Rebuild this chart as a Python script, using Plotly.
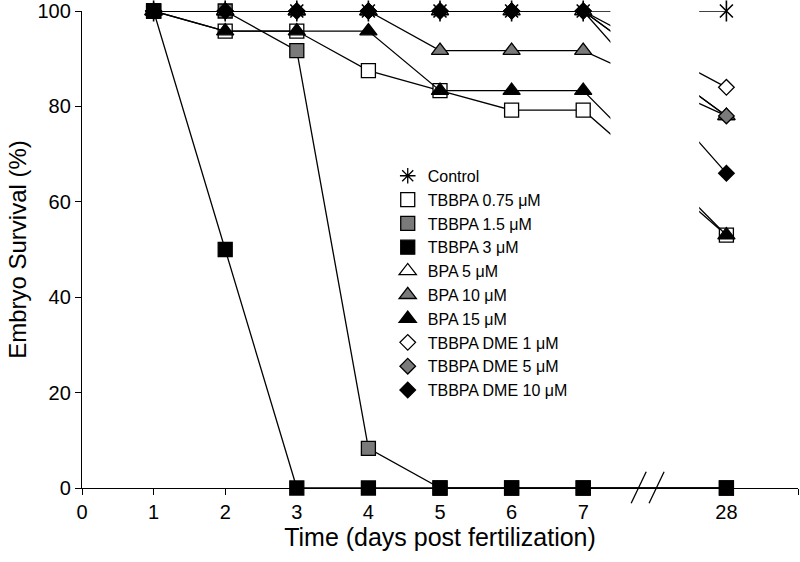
import plotly.graph_objects as go

# ---- data ----
days = [1, 2, 3, 4, 5, 6, 7, 28]
tick_positions = [0, 1, 2, 3, 4, 5, 6, 7, 9, 10]
tick_days = ["0", "1", "2", "3", "4", "5", "6", "7", "28", ""]
series_names = ["Control", "TBBPA 0.75 μM", "TBBPA 1.5 μM", "TBBPA 3 μM",
                "BPA 5 μM", "BPA 10 μM", "BPA 15 μM",
                "TBBPA DME 1 μM", "TBBPA DME 5 μM", "TBBPA DME 10 μM"]
control = [100, 100, 100, 100, 100, 100, 100, 100]
tbbpa_075 = [100, 95.8, 95.8, 87.5, 83.3, 79.2, 79.2, 53]
tbbpa_15 = [100, 100, 91.7, 8.3, 0, 0, 0, 0]
tbbpa_3 = [100, 50, 0, 0, 0, 0, 0, 0]
bpa_5 = [100, 100, 100, 100, 100, 100, 100, 78]
bpa_10 = [100, 100, 100, 100, 91.7, 91.7, 91.7, 78]
bpa_15 = [100, 95.8, 95.8, 95.8, 83.3, 83.3, 83.3, 53]
dme_1 = [100, 100, 100, 100, 100, 100, 100, 84]
dme_5 = [100, 100, 100, 100, 100, 100, 100, 78]
dme_10 = [100, 100, 100, 100, 100, 100, 100, 66]

values = [control, tbbpa_075, tbbpa_15, tbbpa_3, bpa_5, bpa_10, bpa_15, dme_1, dme_5, dme_10]

# broken axis: day 28 drawn at position 9
def pos(d):
    return d if d <= 7 else 9

xpos = [pos(d) for d in days]

GRAY = "#7a7a7a"
styles = [
    dict(symbol="x-thin-open", size=13, color="black"),
    dict(symbol="square", size=14, color="white"),
    dict(symbol="square", size=14, color=GRAY),
    dict(symbol="square", size=14, color="black"),
    dict(symbol="triangle-up", size=15, color="white"),
    dict(symbol="triangle-up", size=15, color=GRAY),
    dict(symbol="triangle-up", size=15, color="black"),
    dict(symbol="diamond", size=12, color="white"),
    dict(symbol="diamond", size=12, color=GRAY),
    dict(symbol="diamond", size=12, color="black"),
]

fig = go.Figure()
for i, (name, vals, st) in enumerate(zip(series_names, values, styles)):
    open_sym = st["symbol"].endswith("open")
    fig.add_trace(go.Scatter(
        x=xpos, y=vals, mode="lines+markers", name=name, showlegend=False,
        line=dict(color="black", width=1.3),
        marker=dict(symbol=st["symbol"], size=st["size"], color=st["color"],
                    line=dict(color="black", width=1.6 if open_sym else 1.3)),
        cliponaxis=False,
    ))
    if i == 0:
        fig.add_trace(go.Scatter(
            x=xpos, y=vals, mode="markers", showlegend=False,
            marker=dict(symbol="line-ns-open", size=15, color="black",
                        line=dict(color="black", width=1.6)),
            cliponaxis=False,
        ))

# legend-only entries (markers only)
for name, st in zip(series_names, styles):
    sym = "asterisk-open" if name == "Control" else st["symbol"]
    fig.add_trace(go.Scatter(
        x=[None], y=[None], mode="markers", name=name,
        marker=dict(symbol=sym, size=st["size"], color=st["color"],
                    line=dict(color="black", width=1.3)),
    ))

# gap of the broken axis
fig.add_shape(type="rect", xref="x", yref="paper", x0=7.38, x1=8.62, y0=0.015, y1=1.03,
              fillcolor="white", line=dict(width=0), layer="above")
for x0 in (7.67, 7.92):
    fig.add_shape(type="line", xref="x", yref="paper", x0=x0, x1=x0 + 0.21,
                  y0=-0.032, y1=0.034, line=dict(color="black", width=1.3), layer="above")

FONT = "Liberation Sans, Arial, sans-serif"
fig.update_layout(
    width=800, height=562,
    margin=dict(l=82, r=2, t=11, b=74, pad=0, autoexpand=False),
    paper_bgcolor="white", plot_bgcolor="white",
    font=dict(family=FONT, color="black", size=20),
    showlegend=True,
    legend=dict(x=0.427, y=0.69, xanchor="left", yanchor="top",
                font=dict(family=FONT, size=16, color="black"),
                bgcolor="rgba(0,0,0,0)", itemsizing="trace"),
    xaxis=dict(range=[0, 10], tickmode="array", tickvals=tick_positions,
               ticktext=tick_days, showgrid=False, zeroline=False, automargin=False,
               showline=True, linecolor="black", linewidth=1.3,
               ticks="outside", ticklen=6, tickcolor="black", tickwidth=1.3,
               tickfont=dict(size=20),
               title=dict(text="Time (days post fertilization)", font=dict(size=25), standoff=4)),
    yaxis=dict(range=[0, 100], tickvals=[0, 20, 40, 60, 80, 100],
               showgrid=False, zeroline=False, automargin=False,
               showline=True, linecolor="black", linewidth=1.3,
               ticks="outside", ticklen=6, tickcolor="black", tickwidth=1.3,
               tickfont=dict(size=20),
               title=dict(text="Embryo Survival (%)", font=dict(size=24), standoff=4)),
)

fig.write_html("out.html", config={"displayModeBar": False},
               post_script="document.body.style.margin='0';document.body.style.overflow='hidden';")
